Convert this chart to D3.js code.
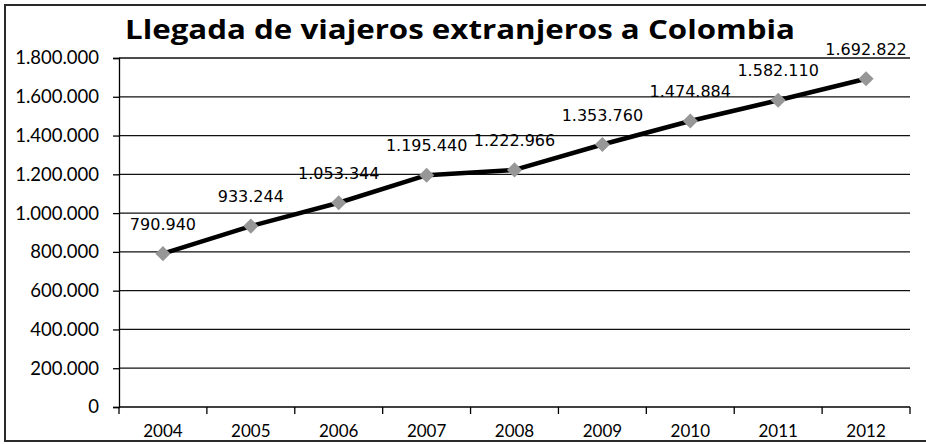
<!DOCTYPE html>
<html>
<head>
<meta charset="utf-8">
<script src="https://cdn.jsdelivr.net/npm/d3@7/dist/d3.min.js"></script>
<style>
  html, body { margin: 0; padding: 0; background: #fff; }
  svg { display: block; }
</style>
</head>
<body>
<svg id="chart" width="926" height="444"></svg>
<script>
// Foreign visitor arrivals to Colombia, by year
const years = ["2004", "2005", "2006", "2007", "2008", "2009", "2010", "2011", "2012"];
const arrivals = [790940, 933244, 1053344, 1195440, 1222966, 1353760, 1474884, 1582110, 1692822];
const yTicks = [0, 200000, 400000, 600000, 800000, 1000000, 1200000, 1400000, 1600000, 1800000];
const titleText = "Llegada de viajeros extranjeros a Colombia";

const svg = d3.select("#chart");
const margin = { left: 119, right: 910, top: 58, bottom: 407 };

// Spanish-style thousands separator
const fmt = d3.formatLocale({ decimal: ",", thousands: ".", grouping: [3], currency: ["$", ""] }).format(",d");

const x = d3.scaleBand().domain(years).range([margin.left, margin.right]);
const y = d3.scaleLinear().domain([0, 1800000]).range([margin.bottom, margin.top]);

// Gridlines
svg.append("g")
  .selectAll("line")
  .data(yTicks.filter(d => d > 0))
  .join("line")
  .attr("x1", margin.left).attr("x2", margin.right)
  .attr("y1", d => y(d)).attr("y2", d => y(d))
  .attr("stroke", "#111").attr("stroke-width", 1.3);

// Y axis
const yAxis = svg.append("g")
  .attr("transform", `translate(${margin.left},0)`)
  .call(d3.axisLeft(y).tickValues(yTicks).tickFormat(d => fmt(d)).tickSize(6).tickPadding(14));
yAxis.select(".domain").attr("stroke", "#000").attr("stroke-width", 1.3);
yAxis.selectAll(".tick line").attr("stroke", "#000").attr("stroke-width", 1.3);
yAxis.selectAll("text")
  .attr("fill", "#000")
  .style("font-family", "Lato, 'Open Sans', sans-serif")
  .style("font-size", "18.5px");

// X axis: ticks at category boundaries
const xAxisG = svg.append("g").attr("transform", `translate(0,${margin.bottom})`);
xAxisG.append("line")
  .attr("x1", margin.left).attr("x2", margin.right)
  .attr("y1", 0).attr("y2", 0)
  .attr("stroke", "#000").attr("stroke-width", 1.3);
const boundaries = years.map(d => x(d)).concat([margin.right]);
xAxisG.selectAll("line.tk")
  .data(boundaries)
  .join("line")
  .attr("class", "tk")
  .attr("x1", d => d).attr("x2", d => d)
  .attr("y1", 0).attr("y2", 7)
  .attr("stroke", "#000").attr("stroke-width", 1.3);
xAxisG.selectAll("text")
  .data(years)
  .join("text")
  .attr("x", d => x(d) + x.bandwidth() / 2)
  .attr("y", 30)
  .attr("text-anchor", "middle")
  .attr("fill", "#000")
  .style("font-family", "Lato, 'Open Sans', sans-serif")
  .style("font-size", "17px")
  .text(d => d);

// Series line
const cx = d => x(d) + x.bandwidth() / 2;
const line = d3.line().x((d, i) => cx(years[i])).y(d => y(d));
svg.append("path")
  .datum(arrivals)
  .attr("d", line)
  .attr("fill", "none")
  .attr("stroke", "#000")
  .attr("stroke-width", 4.5)
  .attr("stroke-linejoin", "round");

// Diamond markers
svg.append("g")
  .selectAll("path")
  .data(arrivals)
  .join("path")
  .attr("d", d3.symbol().type(d3.symbolSquare).size(115)())
  .attr("transform", (d, i) => `translate(${cx(years[i])},${y(d)}) rotate(45)`)
  .attr("fill", "#979797");

// Value labels
svg.append("g")
  .selectAll("text")
  .data(arrivals)
  .join("text")
  .attr("x", (d, i) => cx(years[i]))
  .attr("y", d => y(d) - 24)
  .attr("text-anchor", "middle")
  .attr("fill", "#000")
  .style("font-family", "'DejaVu Sans', sans-serif")
  .style("font-size", "16px")
  .text(d => fmt(d));

// Title
svg.append("text")
  .attr("x", 460)
  .attr("y", 39)
  .attr("text-anchor", "middle")
  .attr("fill", "#000")
  .attr("textLength", 670)
  .attr("lengthAdjust", "spacingAndGlyphs")
  .style("font-family", "'Open Sans', Lato, sans-serif")
  .style("font-weight", "bold")
  .style("font-size", "27px")
  .text(titleText);

// Outer frame
svg.append("rect")
  .attr("x", 5).attr("y", 5)
  .attr("width", 940).attr("height", 436)
  .attr("fill", "none")
  .attr("stroke", "#2a2a2a")
  .attr("stroke-width", 2);
</script>
</body>
</html>
